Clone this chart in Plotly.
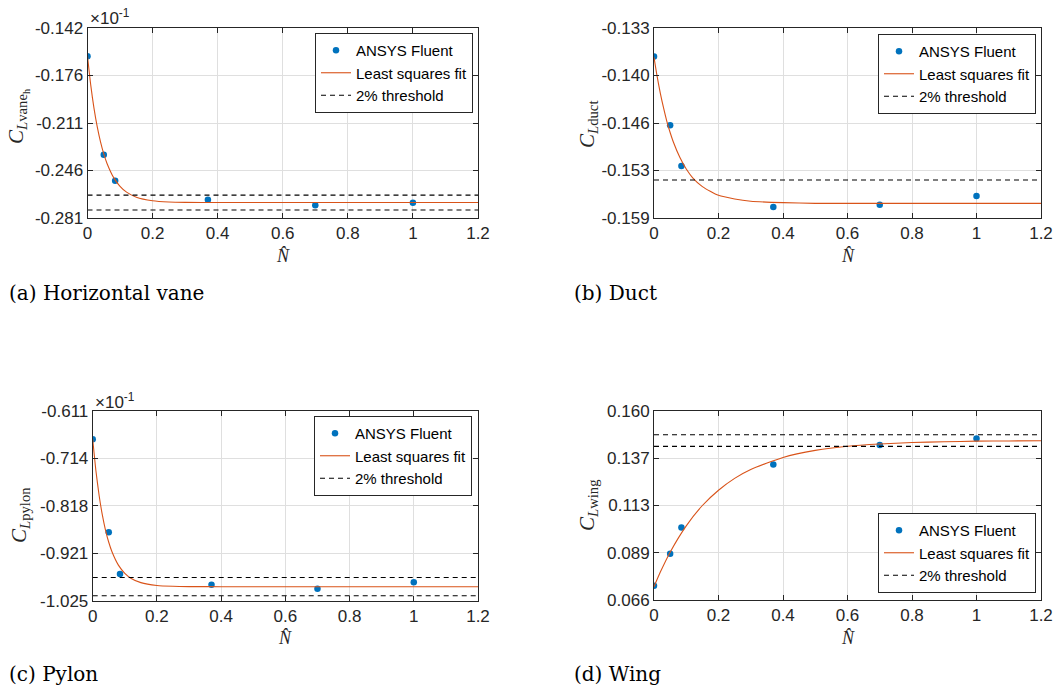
import plotly.graph_objects as go

# ---------------- data ----------------
n_hat = [0.0, 0.05, 0.085, 0.37, 0.70, 1.0]

# (a) Horizontal vane  (values shown in units of 1e-1)
vane_fluent = [-0.1627, -0.2347, -0.2537, -0.2676, -0.2717, -0.2698]
vane_fit_x = [0, 0.01, 0.02, 0.03, 0.04, 0.05, 0.06, 0.08, 0.1, 0.12, 0.15, 0.2, 0.25, 0.3, 0.4, 0.6, 0.8, 1.0, 1.2]
vane_fit_y = [-0.1627, -0.1838, -0.2008, -0.2144, -0.2253, -0.2341, -0.2411, -0.2513, -0.2578, -0.2621,
              -0.2658, -0.2684, -0.2693, -0.2696, -0.2697, -0.2697, -0.2697, -0.2697, -0.2697]
vane_threshold = [-0.2643, -0.2751]
vane_ticks = ["-0.281", "-0.246", "-0.211", "-0.176", "-0.142"]
vane_range = [-0.281, -0.142]

# (b) Duct
duct_fluent = [-0.1369, -0.1463, -0.1519, -0.1575, -0.1572, -0.1560]
duct_fit_x = [0, 0.01, 0.02, 0.03, 0.04, 0.05, 0.06, 0.08, 0.1, 0.12, 0.15, 0.2, 0.25, 0.3, 0.4, 0.5, 0.6, 0.8, 1.0, 1.2]
duct_fit_y = [-0.1370, -0.1397, -0.1420, -0.1440, -0.1458, -0.1473, -0.1486, -0.1507, -0.1523, -0.1535,
              -0.1547, -0.1559, -0.1564, -0.1567, -0.1569, -0.1570, -0.1570, -0.1570, -0.1570, -0.1570]
duct_threshold = [-0.1538, -0.1601]
duct_ticks = ["-0.159", "-0.153", "-0.146", "-0.140", "-0.133"]
duct_range = [-0.159, -0.133]

# (c) Pylon (values shown in units of 1e-1)
pylon_fluent = [-0.6728, -0.8758, -0.9668, -0.9901, -0.9988, -0.9850]
pylon_fit_x = [0, 0.01, 0.02, 0.03, 0.04, 0.05, 0.06, 0.08, 0.1, 0.12, 0.15, 0.2, 0.25, 0.3, 0.4, 0.6, 0.8, 1.0, 1.2]
pylon_fit_y = [-0.6728, -0.7414, -0.7954, -0.8378, -0.8713, -0.8975, -0.9182, -0.9473, -0.9652, -0.9764,
               -0.9856, -0.9918, -0.9936, -0.9942, -0.9944, -0.9944, -0.9944, -0.9944, -0.9944]
pylon_threshold = [-0.9745, -1.0143]
pylon_ticks = ["-1.025", "-0.921", "-0.818", "-0.714", "-0.611"]
pylon_range = [-1.025, -0.611]

# (d) Wing
wing_fluent = [0.0731, 0.0890, 0.1021, 0.1334, 0.1431, 0.1463]
wing_fit_x = [0, 0.02, 0.05, 0.1, 0.15, 0.2, 0.25, 0.3, 0.4, 0.5, 0.6, 0.7, 0.8, 0.9, 1.0, 1.1, 1.2]
wing_fit_y = [0.0726, 0.0800, 0.0898, 0.1029, 0.1130, 0.1206, 0.1265, 0.1309, 0.1369, 0.1404,
              0.1425, 0.1436, 0.1443, 0.1447, 0.1450, 0.1451, 0.1452]
wing_threshold = [0.1482, 0.1424]
wing_ticks = ["0.066", "0.089", "0.113", "0.137", "0.160"]
wing_range = [0.066, 0.160]

x_ticks = [0, 0.2, 0.4, 0.6, 0.8, 1.0, 1.2]
x_ticktext = ["0", "0.2", "0.4", "0.6", "0.8", "1", "1.2"]
x_range = [0, 1.2]

legend_names = ["ANSYS Fluent", "Least squares fit", "2% threshold"]
captions = ["(a) Horizontal vane", "(b) Duct", "(c) Pylon", "(d) Wing"]
y_titles = ["<i>C</i><sub><i>L</i>vane<sub>h</sub></sub>",
            "<i>C</i><sub><i>L</i>duct</sub>",
            "<i>C</i><sub><i>L</i>pylon</sub>",
            "<i>C</i><sub><i>L</i>wing</sub>"]
multipliers = ["×10<sup>-1</sup>", "", "×10<sup>-1</sup>", ""]

# ---------------- styling / layout ----------------
W, H = 1057, 693
BLUE = "#0072BD"
ORANGE = "#D95319"
AXC = "#262626"
GRID = "#DFDFDF"
SANS = "Liberation Sans, Arial, sans-serif"
SERIF = "Liberation Serif, Times New Roman, serif"
CAPF = "DejaVu Serif, serif"


def px_x(v):
    return v / W


def px_y(v):
    return 1 - v / H


# plot-area boxes in pixels: left, right, top, bottom
boxes = [(87.5, 478, 28, 218), (654, 1041, 28, 218), (92.7, 478, 411, 600.7), (654, 1041, 411, 600)]
legend_pos = [(473, 33, "top"), (1036, 34, "top"), (472, 416, "top"), (1036, 593, "bottom")]
ytitle_pos = [(18, 117), (588, 125), (20, 515), (588, 505)]
xtitle_y = [256, 256, 638, 638]
caption_pos = [(7, 293), (572, 293), (7, 674), (572, 674)]
mult_pos = [(88, 17), None, (93, 401), None]

panels = [
    (vane_fluent, vane_fit_x, vane_fit_y, vane_threshold, vane_ticks, vane_range),
    (duct_fluent, duct_fit_x, duct_fit_y, duct_threshold, duct_ticks, duct_range),
    (pylon_fluent, pylon_fit_x, pylon_fit_y, pylon_threshold, pylon_ticks, pylon_range),
    (wing_fluent, wing_fit_x, wing_fit_y, wing_threshold, wing_ticks, wing_range),
]

fig = go.Figure()
layout = dict(
    template="none",
    width=W, height=H, margin=dict(l=0, r=0, t=0, b=0, autoexpand=False),
    paper_bgcolor="white", plot_bgcolor="white",
    showlegend=True, annotations=[],
)

for i, (fluent, fx, fy, thr, yt, yr) in enumerate(panels):
    k = "" if i == 0 else str(i + 1)
    xa, ya = "x" + k, "y" + k
    leg = "legend" + k
    fig.add_trace(go.Scatter(x=n_hat, y=fluent, mode="markers", name=legend_names[0],
                             marker=dict(color=BLUE, size=6.5), xaxis=xa, yaxis=ya, legend=leg))
    fig.add_trace(go.Scatter(x=fx, y=fy, mode="lines", name=legend_names[1],
                             line=dict(color=ORANGE, width=1.1, shape="spline", smoothing=0.6),
                             xaxis=xa, yaxis=ya, legend=leg))
    tx, ty = [], []
    for t in thr:
        tx += [x_range[0], x_range[1], None]
        ty += [t, t, None]
    fig.add_trace(go.Scatter(x=tx, y=ty, mode="lines", name=legend_names[2],
                             line=dict(color="black", width=1.1, dash="5px,4px"),
                             xaxis=xa, yaxis=ya, legend=leg))
    l, r, t_, b = boxes[i]
    n = len(yt)
    tickvals = [yr[0] + (yr[1] - yr[0]) * j / (n - 1) for j in range(n)]
    axis_common = dict(showline=True, linecolor=AXC, linewidth=1, mirror="allticks",
                       ticks="inside", ticklen=5, tickcolor=AXC, showgrid=True, gridcolor=GRID,
                       gridwidth=1, zeroline=False, automargin=False,
                       tickfont=dict(family=SANS, size=17, color=AXC))
    layout["xaxis" + k] = dict(domain=[px_x(l), px_x(r)], range=x_range, tickvals=x_ticks,
                               ticktext=x_ticktext, anchor=ya, **axis_common)
    layout["yaxis" + k] = dict(domain=[px_y(b), px_y(t_)], range=yr, tickvals=tickvals,
                               ticktext=yt, anchor=xa, **axis_common)
    lx, ly, anc = legend_pos[i]
    layout[leg] = dict(x=px_x(lx), y=px_y(ly), xanchor="right", yanchor=anc,
                       bgcolor="white", bordercolor=AXC, borderwidth=1,
                       font=dict(family=SANS, size=15, color="black"),
                       itemwidth=30, tracegroupgap=0)
    ax_, ay_ = ytitle_pos[i]
    layout["annotations"].append(dict(text=y_titles[i], x=px_x(ax_), y=px_y(ay_), xref="paper", yref="paper",
                                      showarrow=False, textangle=-90, xanchor="center", yanchor="middle",
                                      font=dict(family=SERIF, size=21, color=AXC)))
    layout["annotations"].append(dict(text="<i>N\u0302</i>", x=px_x((l + r) / 2), y=px_y(xtitle_y[i]),
                                      xref="paper", yref="paper", showarrow=False,
                                      xanchor="center", yanchor="middle",
                                      font=dict(family=SERIF, size=18, color=AXC)))
    cx, cy = caption_pos[i]
    layout["annotations"].append(dict(text=captions[i], x=px_x(cx), y=px_y(cy), xref="paper", yref="paper",
                                      showarrow=False, xanchor="left", yanchor="middle",
                                      font=dict(family=CAPF, size=20, color="black")))
    if multipliers[i]:
        mx, my = mult_pos[i]
        layout["annotations"].append(dict(text=multipliers[i], x=px_x(mx), y=px_y(my), xref="paper",
                                          yref="paper", showarrow=False, xanchor="left", yanchor="middle",
                                          font=dict(family=SANS, size=17, color=AXC)))

fig.update_layout(**layout)
fig.write_html("out.html", config={"displayModeBar": False, "staticPlot": True},
               post_script="document.body.style.margin='0px';")
